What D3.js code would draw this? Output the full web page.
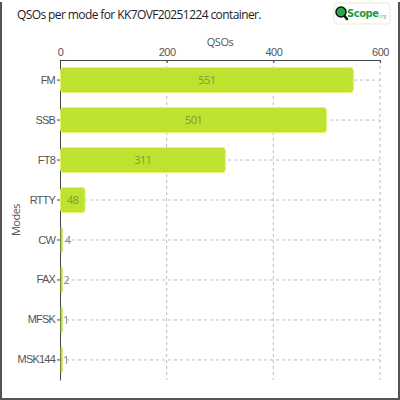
<!DOCTYPE html>
<html>
<head>
<meta charset="utf-8">
<script src="https://cdn.jsdelivr.net/npm/d3@7"></script>
<style>
  body { margin: 0; background: #fff; }
  svg { display: block; font-family: "Open Sans", sans-serif; }
</style>
</head>
<body>
<div id="chart"></div>
<script>
const modes = ["FM", "SSB", "FT8", "RTTY", "CW", "FAX", "MFSK", "MSK144"]
const qsos = [551, 501, 311, 48, 4, 2, 1, 1]
const xTicks = [0, 200, 400, 600]

const width = 400
const height = 400
const margin = { top: 60, right: 20, bottom: 20, left: 60 }

const data = modes.map((m, i) => ({ mode: m, value: qsos[i] }))

const svg = d3.select("#chart")
    .append("svg")
    .attr("width", width)
    .attr("height", height)

// frame
svg.append("path")
    .attr("d", `M1,2 V${height - 1} H${width - 1} V2`)
    .attr("fill", "none")
    .attr("stroke", "#555")
    .attr("stroke-width", 2)

const x = d3.scaleLinear()
    .domain([0, 600])
    .range([margin.left, width - margin.right])

const y = d3.scaleBand()
    .domain(modes)
    .range([margin.top, height - margin.bottom])
    .paddingInner(0.375)
    .paddingOuter(0.19)

// grid
svg.append("g")
    .selectAll("line")
    .data(xTicks.slice(1))
    .enter()
    .append("line")
    .attr("x1", d => x(d)).attr("x2", d => x(d))
    .attr("y1", margin.top).attr("y2", height - margin.bottom)
    .attr("stroke", "#bbb")
    .attr("stroke-dasharray", "3,3")

svg.append("g")
    .selectAll("line")
    .data(modes)
    .enter()
    .append("line")
    .attr("x1", margin.left).attr("x2", x(600))
    .attr("y1", d => y(d) + y.bandwidth() / 2)
    .attr("y2", d => y(d) + y.bandwidth() / 2)
    .attr("stroke", "#bbb")
    .attr("stroke-dasharray", "3,3")

const barW = d => x(d.value) - x(0)

// axes
const xAxis = svg.append("g")
    .attr("transform", `translate(0,${margin.top})`)
    .call(d3.axisTop(x).tickValues(xTicks).tickSizeInner(-3).tickSizeOuter(0).tickPadding(4))
xAxis.select(".domain").attr("stroke", "#444")
xAxis.selectAll(".tick line").attr("stroke", "#444")
xAxis.selectAll("text").attr("font-size", 11).attr("fill", "#555").attr("letter-spacing", -0.5)

const yAxis = svg.append("g")
    .attr("transform", `translate(${margin.left},0)`)
    .call(d3.axisLeft(y).tickSize(3).tickSizeOuter(0).tickPadding(2))
yAxis.select(".domain").attr("stroke", "#444")
yAxis.selectAll(".tick line").attr("stroke", "#444")
yAxis.selectAll("text").attr("font-size", 11).attr("fill", "#555").attr("letter-spacing", -0.8)

// bars
svg.selectAll("rect.bar")
    .data(data)
    .enter()
    .append("rect")
    .attr("class", "bar")
    .attr("x", d => barW(d) > 8 ? x(0) + 0.5 : x(0) + 0.6)
    .attr("y", d => y(d.mode))
    .attr("width", d => Math.max(barW(d) - 1, 2))
    .attr("height", y.bandwidth())
    .attr("rx", d => barW(d) > 8 ? 3 : 0)
    .attr("fill", "#bde22f")
    .attr("stroke", d => barW(d) > 8 ? "#e4f56c" : "none")
    .attr("stroke-width", 1)

// value labels
const inside = d => barW(d) > 20
svg.selectAll("text.val")
    .data(data)
    .enter()
    .append("text")
    .attr("class", "val")
    .attr("x", d => inside(d) ? (x(0) + x(d.value)) / 2 : x(d.value) + 2.5)
    .attr("y", d => y(d.mode) + y.bandwidth() / 2)
    .attr("dy", "0.35em")
    .attr("text-anchor", d => inside(d) ? "middle" : "start")
    .attr("font-size", 11)
    .attr("letter-spacing", -0.5)
    .attr("fill", d => inside(d) ? "#7f9a3a" : "#6f8c8c")
    .text(d => d.value)

// axis titles
svg.append("text")
    .attr("x", (x(0) + x(600)) / 2)
    .attr("y", 46)
    .attr("text-anchor", "middle")
    .attr("font-size", 11)
    .attr("fill", "#555")
    .attr("letter-spacing", -0.5)
    .text("QSOs")

svg.append("text")
    .attr("transform", `translate(20,${(margin.top + height - margin.bottom) / 2}) rotate(-90)`)
    .attr("text-anchor", "middle")
    .attr("font-size", 11)
    .attr("fill", "#555")
    .attr("letter-spacing", -0.5)
    .text("Modes")

// title
svg.append("text")
    .attr("x", 17)
    .attr("y", 19)
    .attr("font-size", 12)
    .attr("fill", "#222")
    .attr("letter-spacing", -0.6)
    .text("QSOs per mode for KK7OVF20251224 container.")

// logo
const logo = svg.append("g").attr("transform", "translate(334,3)")
logo.append("rect")
    .attr("width", 56).attr("height", 21).attr("rx", 3)
    .attr("fill", "#fff").attr("stroke", "#e6f0c8")
logo.append("line")
    .attr("x1", 8).attr("y1", 10).attr("x2", 13).attr("y2", 16)
    .attr("stroke", "#111").attr("stroke-width", 2.5).attr("stroke-linecap", "round")
logo.append("circle")
    .attr("cx", 7).attr("cy", 9).attr("r", 5)
    .attr("fill", "#2aa84a").attr("stroke", "#111").attr("stroke-width", 1.5)
logo.append("text")
    .attr("x", 13).attr("y", 14)
    .attr("font-family", "Liberation Sans Narrow, DejaVu Sans Condensed, sans-serif")
    .attr("font-weight", "bold")
    .attr("font-size", 11)
    .attr("letter-spacing", -0.4)
    .attr("fill", "#1e9a3e")
    .text("Scope")
logo.append("text")
    .attr("x", 44).attr("y", 15)
    .attr("font-size", 4.5)
    .attr("fill", "#5cbf6a")
    .text(".org")
</script>
</body>
</html>
